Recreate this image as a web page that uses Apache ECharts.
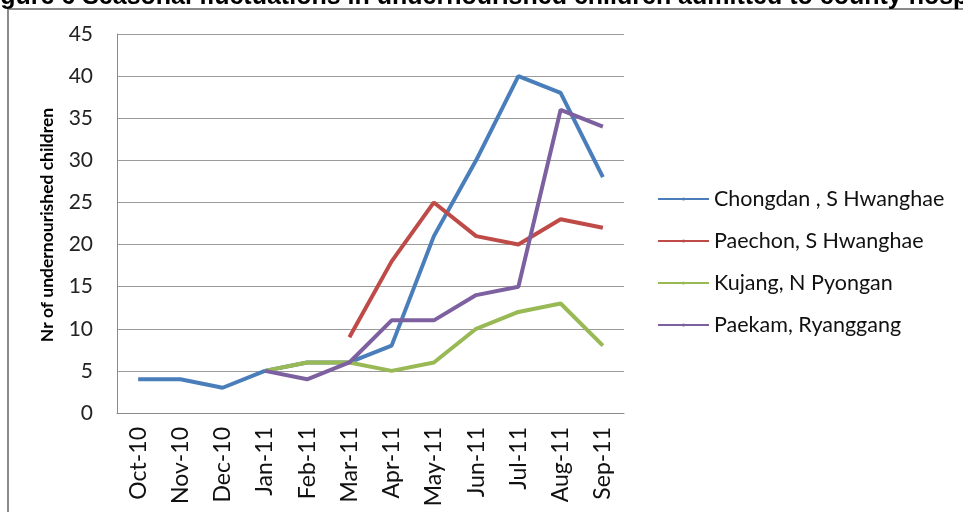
<!DOCTYPE html>
<html>
<head>
<meta charset="utf-8">
<script src="https://cdn.jsdelivr.net/npm/echarts@6/dist/echarts.min.js"></script>
<style>html,body{margin:0;padding:0;background:#fff;}#c{width:963px;height:512px;}</style>
</head>
<body>
<div id="c"></div>
<script>
var months = ['Oct-10','Nov-10','Dec-10','Jan-11','Feb-11','Mar-11','Apr-11','May-11','Jun-11','Jul-11','Aug-11','Sep-11'];
var chongdan = [4, 4, 3, 5, 6, 6, 8, 21, 30, 40, 38, 28];
var paechon  = [null, null, null, null, null, 9, 18, 25, 21, 20, 23, 22];
var kujang   = [null, null, null, 5, 6, 6, 5, 6, 10, 12, 13, 8];
var paekam   = [null, null, null, 5, 4, 6, 11, 11, 14, 15, 36, 34];
var seriesNames = ['Chongdan , S Hwanghae', 'Paechon, S Hwanghae', 'Kujang, N Pyongan', 'Paekam, Ryanggang'];
var colors = ['#4A7EBB', '#BE4B48', '#98B954', '#7D60A0'];
var yTicks = {min: 0, max: 45, interval: 5};

var font = 'Lato, "Open Sans", sans-serif';
var dataSets = [chongdan, paechon, kujang, paekam];
var chart = echarts.init(document.getElementById('c'));
chart.setOption({
  animation: false,
  color: colors,
  grid: {left: 117, right: 339, top: 34, bottom: 99, containLabel: false},
  graphic: [
    {type: 'polyline', shape: {points: [[8, 512], [8, 9], [963, 9]]}, style: {stroke: '#8a8a8a', lineWidth: 2, fill: null}},
    {type: 'text', x: -22, y: -15, style: {text: 'Figure 6 Seasonal fluctuations in undernourished children admitted to county hospitals', font: 'bold 25px "Liberation Sans", Arial, sans-serif', fill: '#000'}},
    {type: 'text', x: 47, y: 225, rotation: Math.PI / 2, style: {text: 'Nr of undernourished children', font: 'bold 17.5px ' + font, fill: '#000', align: 'center', verticalAlign: 'middle'}}
  ],
  legend: {
    orient: 'vertical', left: 652, top: 183,
    itemWidth: 51, itemHeight: 4, itemGap: 20,
    textStyle: {fontFamily: font, fontSize: 21.5, lineHeight: 22, color: '#111', padding: [0, 0, 0, 0]},
    data: seriesNames
  },
  xAxis: {
    type: 'category', data: months, boundaryGap: true,
    axisLine: {lineStyle: {color: '#8a8a8a', width: 1}},
    axisTick: {show: false},
    axisLabel: {rotate: 90, margin: 14, fontFamily: font, fontSize: 23, color: '#111', interval: 0}
  },
  yAxis: {
    type: 'value', min: yTicks.min, max: yTicks.max, interval: yTicks.interval,
    axisLine: {show: true, lineStyle: {color: '#8a8a8a', width: 1}},
    axisTick: {show: false},
    splitLine: {lineStyle: {color: '#9a9a9a', width: 1}},
    axisLabel: {margin: 24, fontFamily: font, fontSize: 21, color: '#222'}
  },
  series: dataSets.map(function (d, i) {
    return {
      name: seriesNames[i], type: 'line', data: d, symbol: 'none', connectNulls: false,
      lineStyle: {width: 4, color: colors[i]}, itemStyle: {color: colors[i]}
    };
  })
});
</script>
</body>
</html>
